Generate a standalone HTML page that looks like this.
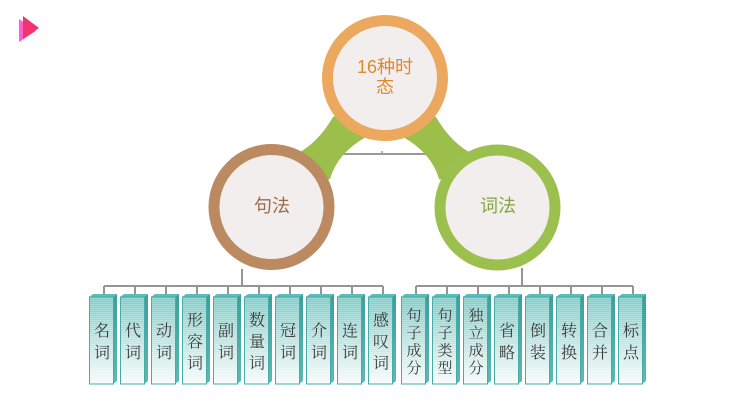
<!DOCTYPE html>
<html><head><meta charset="utf-8"><style>
html,body{margin:0;padding:0;background:#fff;}
svg{display:block;}
.bt{font-family:"Liberation Serif","Noto Serif CJK SC",serif;fill:#3a3a3a;text-anchor:middle;}
.ct{font-family:"Liberation Sans","Noto Sans CJK SC",sans-serif;text-anchor:middle;font-size:18px;}
</style></head><body>
<svg width="730" height="411" viewBox="0 0 730 411" xmlns="http://www.w3.org/2000/svg">
<defs>
<linearGradient id="fg" x1="0" y1="0" x2="0" y2="1">
<stop offset="0" stop-color="#7accc8"/>
<stop offset="0.45" stop-color="#b5e3e0"/>
<stop offset="1" stop-color="#f6fcfb"/>
</linearGradient>
<linearGradient id="sg" x1="0" y1="0" x2="0" y2="1">
<stop offset="0" stop-color="#3a9f9b"/>
<stop offset="1" stop-color="#5cbab6"/>
</linearGradient>
<pattern id="st" width="4" height="2" patternUnits="userSpaceOnUse">
<rect width="4" height="1" fill="#ffffff" fill-opacity="0.25"/>
</pattern>
</defs>

<!-- play icon -->
<polygon points="19,19 19,42 36,31" fill="#ff5fd2"/>
<polygon points="23,16 23,39 39,28" fill="#ef3470"/>

<!-- gray line between -->
<line x1="342" y1="154" x2="435" y2="154" stroke="#9a9a9a" stroke-width="2"/>
<line x1="382" y1="151" x2="382" y2="154" stroke="#9a9a9a" stroke-width="1.5"/>

<!-- green bands -->
<path d="M300,152 Q319,141 333,117 L375,95 L366,137 Q337.5,153 330,179 L285,195 Z" fill="#9cbf4c"/>
<path d="M469,152 Q450,141 436,117 L394,95 L403,137 Q431.5,153 439,179 L484,195 Z" fill="#9cbf4c"/>

<!-- circles -->
<circle cx="385" cy="78" r="57.5" fill="#f2eeee" stroke="#eba85e" stroke-width="11"/>
<circle cx="271.5" cy="207" r="57.5" fill="#f2eeee" stroke="#bb8a61" stroke-width="11"/>
<circle cx="497.5" cy="207.5" r="57.5" fill="#f2eeee" stroke="#9cc04e" stroke-width="11"/>

<text class="ct" x="385" y="73" fill="#e0892e">16种时</text>
<text class="ct" x="385" y="93" fill="#e0892e">态</text>
<text class="ct" x="272" y="212" fill="#9c6b47">句法</text>
<text class="ct" x="498" y="212" fill="#82a53c">词法</text>

<!-- tree lines -->
<g stroke="#959595" stroke-width="2" fill="none">
<line x1="242" y1="269" x2="242" y2="286"/>
<line x1="104" y1="286" x2="383" y2="286"/>
<line x1="522" y1="268" x2="522" y2="286"/>
<line x1="416" y1="286" x2="633" y2="286"/>
<line x1="104" y1="286" x2="104" y2="295"/>
<line x1="135" y1="286" x2="135" y2="295"/>
<line x1="166" y1="286" x2="166" y2="295"/>
<line x1="197" y1="286" x2="197" y2="295"/>
<line x1="228" y1="286" x2="228" y2="295"/>
<line x1="259" y1="286" x2="259" y2="295"/>
<line x1="290" y1="286" x2="290" y2="295"/>
<line x1="321" y1="286" x2="321" y2="295"/>
<line x1="352" y1="286" x2="352" y2="295"/>
<line x1="383" y1="286" x2="383" y2="295"/>
<line x1="416" y1="286" x2="416" y2="295"/>
<line x1="447" y1="286" x2="447" y2="295"/>
<line x1="478" y1="286" x2="478" y2="295"/>
<line x1="509" y1="286" x2="509" y2="295"/>
<line x1="540" y1="286" x2="540" y2="295"/>
<line x1="571" y1="286" x2="571" y2="295"/>
<line x1="602" y1="286" x2="602" y2="295"/>
<line x1="633" y1="286" x2="633" y2="295"/>
</g>

<!-- boxes -->
<g id="boxes">
<!-- box template repeated -->
<g transform="translate(89,0)"><polygon points="24,297 28,294 28,381 24,384" fill="url(#sg)"/><polygon points="0,297 4,294 28,294 24,297" fill="#5dbdb9"/><rect x="0.5" y="297" width="24" height="87" fill="url(#fg)" stroke="#47aba7"/><rect x="1" y="298" width="23" height="85" fill="url(#st)"/></g>
<g transform="translate(120,0)"><polygon points="24,297 28,294 28,381 24,384" fill="url(#sg)"/><polygon points="0,297 4,294 28,294 24,297" fill="#5dbdb9"/><rect x="0.5" y="297" width="24" height="87" fill="url(#fg)" stroke="#47aba7"/><rect x="1" y="298" width="23" height="85" fill="url(#st)"/></g>
<g transform="translate(151,0)"><polygon points="24,297 28,294 28,381 24,384" fill="url(#sg)"/><polygon points="0,297 4,294 28,294 24,297" fill="#5dbdb9"/><rect x="0.5" y="297" width="24" height="87" fill="url(#fg)" stroke="#47aba7"/><rect x="1" y="298" width="23" height="85" fill="url(#st)"/></g>
<g transform="translate(182,0)"><polygon points="24,297 28,294 28,381 24,384" fill="url(#sg)"/><polygon points="0,297 4,294 28,294 24,297" fill="#5dbdb9"/><rect x="0.5" y="297" width="24" height="87" fill="url(#fg)" stroke="#47aba7"/><rect x="1" y="298" width="23" height="85" fill="url(#st)"/></g>
<g transform="translate(213,0)"><polygon points="24,297 28,294 28,381 24,384" fill="url(#sg)"/><polygon points="0,297 4,294 28,294 24,297" fill="#5dbdb9"/><rect x="0.5" y="297" width="24" height="87" fill="url(#fg)" stroke="#47aba7"/><rect x="1" y="298" width="23" height="85" fill="url(#st)"/></g>
<g transform="translate(244,0)"><polygon points="24,297 28,294 28,381 24,384" fill="url(#sg)"/><polygon points="0,297 4,294 28,294 24,297" fill="#5dbdb9"/><rect x="0.5" y="297" width="24" height="87" fill="url(#fg)" stroke="#47aba7"/><rect x="1" y="298" width="23" height="85" fill="url(#st)"/></g>
<g transform="translate(275,0)"><polygon points="24,297 28,294 28,381 24,384" fill="url(#sg)"/><polygon points="0,297 4,294 28,294 24,297" fill="#5dbdb9"/><rect x="0.5" y="297" width="24" height="87" fill="url(#fg)" stroke="#47aba7"/><rect x="1" y="298" width="23" height="85" fill="url(#st)"/></g>
<g transform="translate(306,0)"><polygon points="24,297 28,294 28,381 24,384" fill="url(#sg)"/><polygon points="0,297 4,294 28,294 24,297" fill="#5dbdb9"/><rect x="0.5" y="297" width="24" height="87" fill="url(#fg)" stroke="#47aba7"/><rect x="1" y="298" width="23" height="85" fill="url(#st)"/></g>
<g transform="translate(337,0)"><polygon points="24,297 28,294 28,381 24,384" fill="url(#sg)"/><polygon points="0,297 4,294 28,294 24,297" fill="#5dbdb9"/><rect x="0.5" y="297" width="24" height="87" fill="url(#fg)" stroke="#47aba7"/><rect x="1" y="298" width="23" height="85" fill="url(#st)"/></g>
<g transform="translate(368,0)"><polygon points="24,297 28,294 28,381 24,384" fill="url(#sg)"/><polygon points="0,297 4,294 28,294 24,297" fill="#5dbdb9"/><rect x="0.5" y="297" width="24" height="87" fill="url(#fg)" stroke="#47aba7"/><rect x="1" y="298" width="23" height="85" fill="url(#st)"/></g>

<g transform="translate(401,0)"><polygon points="24,297 28,294 28,381 24,384" fill="url(#sg)"/><polygon points="0,297 4,294 28,294 24,297" fill="#5dbdb9"/><rect x="0.5" y="297" width="24" height="87" fill="url(#fg)" stroke="#47aba7"/><rect x="1" y="298" width="23" height="85" fill="url(#st)"/></g>
<g transform="translate(432,0)"><polygon points="24,297 28,294 28,381 24,384" fill="url(#sg)"/><polygon points="0,297 4,294 28,294 24,297" fill="#5dbdb9"/><rect x="0.5" y="297" width="24" height="87" fill="url(#fg)" stroke="#47aba7"/><rect x="1" y="298" width="23" height="85" fill="url(#st)"/></g>
<g transform="translate(463,0)"><polygon points="24,297 28,294 28,381 24,384" fill="url(#sg)"/><polygon points="0,297 4,294 28,294 24,297" fill="#5dbdb9"/><rect x="0.5" y="297" width="24" height="87" fill="url(#fg)" stroke="#47aba7"/><rect x="1" y="298" width="23" height="85" fill="url(#st)"/></g>
<g transform="translate(494,0)"><polygon points="24,297 28,294 28,381 24,384" fill="url(#sg)"/><polygon points="0,297 4,294 28,294 24,297" fill="#5dbdb9"/><rect x="0.5" y="297" width="24" height="87" fill="url(#fg)" stroke="#47aba7"/><rect x="1" y="298" width="23" height="85" fill="url(#st)"/></g>
<g transform="translate(525,0)"><polygon points="24,297 28,294 28,381 24,384" fill="url(#sg)"/><polygon points="0,297 4,294 28,294 24,297" fill="#5dbdb9"/><rect x="0.5" y="297" width="24" height="87" fill="url(#fg)" stroke="#47aba7"/><rect x="1" y="298" width="23" height="85" fill="url(#st)"/></g>
<g transform="translate(556,0)"><polygon points="24,297 28,294 28,381 24,384" fill="url(#sg)"/><polygon points="0,297 4,294 28,294 24,297" fill="#5dbdb9"/><rect x="0.5" y="297" width="24" height="87" fill="url(#fg)" stroke="#47aba7"/><rect x="1" y="298" width="23" height="85" fill="url(#st)"/></g>
<g transform="translate(587,0)"><polygon points="24,297 28,294 28,381 24,384" fill="url(#sg)"/><polygon points="0,297 4,294 28,294 24,297" fill="#5dbdb9"/><rect x="0.5" y="297" width="24" height="87" fill="url(#fg)" stroke="#47aba7"/><rect x="1" y="298" width="23" height="85" fill="url(#st)"/></g>
<g transform="translate(618,0)"><polygon points="24,297 28,294 28,381 24,384" fill="url(#sg)"/><polygon points="0,297 4,294 28,294 24,297" fill="#5dbdb9"/><rect x="0.5" y="297" width="24" height="87" fill="url(#fg)" stroke="#47aba7"/><rect x="1" y="298" width="23" height="85" fill="url(#st)"/></g>
</g>

<!-- box texts: 2-char centers 330,352 ; 3-char 319.5,341,362.5 ; 4-char 314.75,332.25,349.75,367.25 -->
<g class="bt" font-size="16">
<text x="102" y="336">名</text><text x="102" y="358">词</text>
<text x="133" y="336">代</text><text x="133" y="358">词</text>
<text x="164" y="336">动</text><text x="164" y="358">词</text>
<text x="195" y="325.5">形</text><text x="195" y="347">容</text><text x="195" y="368.5">词</text>
<text x="226" y="336">副</text><text x="226" y="358">词</text>
<text x="257" y="325.5">数</text><text x="257" y="347">量</text><text x="257" y="368.5">词</text>
<text x="288" y="336">冠</text><text x="288" y="358">词</text>
<text x="319" y="336">介</text><text x="319" y="358">词</text>
<text x="350" y="336">连</text><text x="350" y="358">词</text>
<text x="381" y="325.5">感</text><text x="381" y="347">叹</text><text x="381" y="368.5">词</text>

<text x="507" y="336">省</text><text x="507" y="358">略</text>
<text x="538" y="336">倒</text><text x="538" y="358">装</text>
<text x="569" y="336">转</text><text x="569" y="358">换</text>
<text x="600" y="336">合</text><text x="600" y="358">并</text>
<text x="631" y="336">标</text><text x="631" y="358">点</text>
</g>
<g class="bt" font-size="15">
<text x="414" y="320.5">句</text><text x="414" y="338">子</text><text x="414" y="355.5">成</text><text x="414" y="373">分</text>
<text x="445" y="320.5">句</text><text x="445" y="338">子</text><text x="445" y="355.5">类</text><text x="445" y="373">型</text>
<text x="476" y="320.5">独</text><text x="476" y="338">立</text><text x="476" y="355.5">成</text><text x="476" y="373">分</text>
</g>
</svg>
</body></html>
